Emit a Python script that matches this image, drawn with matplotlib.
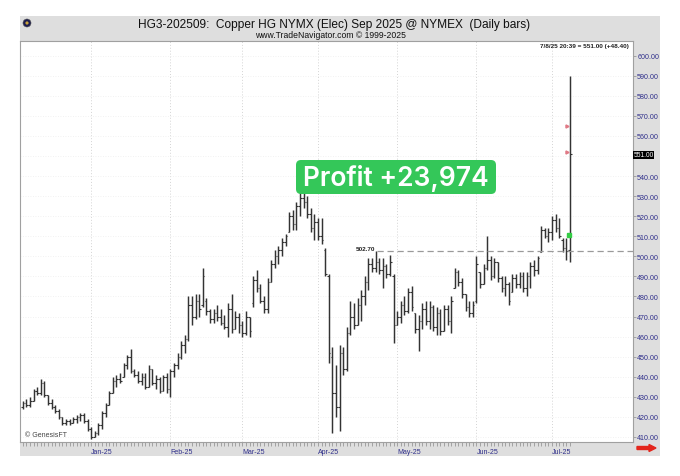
import matplotlib
matplotlib.use("Agg")
import matplotlib.pyplot as plt
from matplotlib.patches import Rectangle, FancyBboxPatch, Circle, FancyArrow
import numpy as np
import pandas as pd

# daily OHLC, Copper HG Sep 2025 (weekdays 2024-12-06 .. 2025-07-08)
dates = pd.bdate_range("2024-12-06", "2025-07-08")

opens = [425, 427, 426, 428, 433, 432, 437, 431, 427, 425, 423, 420, 417, 418, 417, 419, 420, 421, 418, 414,
         410, 412, 416, 422, 426, 432, 438, 439, 440, 446, 450, 443, 441, 438, 440, 435, 444, 437, 439, 433,
         440, 434, 443, 446, 450, 456, 459, 476, 470, 478, 476, 478, 473, 469, 472, 470, 467, 465, 474, 464,
         470, 466, 462, 470, 477, 488, 484, 478, 474, 487, 496, 500, 503, 507, 512, 520, 516, 525, 529, 527,
         521, 514, 517, 510, 503, 490, 450, 432, 425, 452, 444, 462, 470, 466, 476, 480, 487, 496, 494, 497,
         493, 495, 491, 490, 466, 470, 476, 473, 482, 472, 464, 468, 474, 468, 475, 465, 472, 463, 474, 468,
         484, 492, 487, 481, 475, 472, 478, 492, 486, 494, 498, 490, 497, 489, 484, 486, 482, 489, 486, 490,
         484, 490, 495, 493, 502, 513, 510, 512, 518, 514, 508, 504, 503]
highs = [428, 429, 430, 434, 435, 439, 438, 431, 429, 426, 424, 420, 419, 419, 420, 421, 422, 422, 419, 415,
         413, 417, 423, 427, 433, 440, 441, 442, 447, 451, 454, 444, 443, 442, 442, 446, 444, 441, 440, 441,
         442, 444, 447, 452, 458, 461, 480, 480, 481, 481, 494, 479, 474, 474, 476, 474, 471, 477, 481, 473,
         472, 468, 473, 470, 490, 493, 486, 480, 489, 498, 503, 505, 509, 511, 522, 523, 527, 532, 536, 530,
         524, 521, 519, 519, 504, 491, 455, 446, 456, 455, 465, 478, 477, 479, 483, 490, 499, 499, 502.7, 499,
         499, 496, 500.5, 491, 473, 478, 480, 484, 485, 472, 471, 477, 478, 478, 476, 475, 474, 476, 476, 480,
         494, 493, 489, 481, 478, 478, 500, 492, 496, 510, 500, 499, 497, 490, 490, 487, 491, 491, 492, 492,
         492, 497, 498, 500, 515, 514, 514, 520, 521, 519, 509, 509, 590]
lows = [424, 425, 425, 428, 431, 431, 430, 426, 424, 422, 419, 416, 416, 416, 417, 417, 418, 417, 413, 409,
        410, 411, 414, 420, 426, 432, 435, 437, 440, 444, 442, 440, 437, 436, 434, 435, 436, 434, 432, 433,
        432, 430, 440, 444, 449, 452, 458, 466, 469, 470, 475, 471, 467, 467, 468, 466, 464, 460, 462, 464,
        462, 460, 461, 460, 475, 482, 477, 472, 472, 487, 494, 496, 500, 505, 512, 513, 513, 520, 524, 519,
        512, 508, 508, 506, 490, 447, 412, 420, 413, 441, 443, 461, 464, 466, 468, 476, 483, 492, 492, 491,
        484, 489, 490, 457, 466, 467, 471, 472, 473, 462, 453, 464, 466, 464, 463, 461, 461, 463, 466, 462,
        484, 485, 479, 473, 470, 470, 477, 484, 486, 493, 488, 489, 487, 482, 480, 476, 482, 484, 484, 482,
        480, 484, 490, 491, 502, 509, 507, 508, 512, 509, 502, 498, 497]
closes = [427, 426, 428, 433, 432, 437, 431, 427, 425, 423, 420, 417, 418, 417, 419, 420, 421, 418, 414, 410,
          412, 416, 422, 426, 432, 438, 439, 438, 446, 450, 443, 441, 438, 440, 435, 444, 437, 439, 433, 440,
          434, 443, 446, 450, 456, 459, 476, 470, 478, 474, 490, 473, 469, 472, 470, 467, 465, 474, 464, 470,
          466, 462, 470, 463, 488, 484, 478, 474, 487, 496, 500, 503, 507, 510, 520, 516, 525, 529, 527, 521,
          514, 517, 510, 508, 491, 452, 432, 425, 452, 444, 462, 470, 466, 476, 480, 487, 496, 494, 497, 493,
          495, 491, 497, 466, 470, 476, 473, 482, 475, 464, 468, 474, 468, 475, 465, 472, 463, 474, 468, 478,
          492, 487, 481, 475, 472, 476, 496, 486, 494, 498, 490, 497, 489, 484, 486, 478, 489, 486, 490, 484,
          490, 495, 493, 499, 513, 510, 512, 518, 514, 510, 504, 502.6, 551]

month_dates = ["2025-01-02", "2025-02-03", "2025-03-03", "2025-04-01", "2025-05-01", "2025-06-02", "2025-07-01"]
month_labels = ["Jan-25", "Feb-25", "Mar-25", "Apr-25", "May-25", "Jun-25", "Jul-25"]
price_ticks = list(range(410, 601, 10))
line_level = 502.70
line_start = "2025-04-23"
last_price = 551.00
change = 48.40
profit_text = "Profit +23,974"

plt.rcParams['font.family'] = ['Liberation Sans', 'DejaVu Sans']
navy = '#2e2e8a'

W, H = 680, 477
fig = plt.figure(figsize=(W / 100, H / 100), dpi=100)
fig.patch.set_facecolor('white')

# grey frame behind everything
bg = fig.add_axes([0, 0, 1, 1], zorder=0)
bg.set_xlim(0, W)
bg.set_ylim(H, 0)
bg.axis('off')
bg.add_patch(Rectangle((20, 17), 640, 440, facecolor='#dedede', edgecolor='none'))

# price chart
ax = fig.add_axes([20 / W, 1 - 443 / H, 613 / W, 401 / H], zorder=1)
ax.set_facecolor('white')
x = np.arange(len(dates))
ax.vlines(x, lows, highs, color='#333333', lw=1.05)
ax.hlines(opens, x - 0.45, x, color='#333333', lw=0.8)
ax.hlines(closes, x, x + 0.45, color='#333333', lw=0.8)

month_idx = [dates.get_loc(pd.Timestamp(d)) for d in month_dates]
for m in month_idx:
    ax.axvline(m, color='#d4d4d4', lw=0.7, ls=(0, (1, 2)), zorder=0)
for p in price_ticks:
    ax.axhline(p, color='#ededed', lw=0.6, ls=(0, (1, 2)), zorder=0)

# 502.70 reference line
li = dates.get_loc(pd.Timestamp(line_start))
ax.hlines(line_level, li + 0.3, 170, color='#9a9a9a', lw=0.9, ls=(0, (5, 3)))
ax.text(li - 0.2, line_level, f"{line_level:.2f}", fontsize=4.6, fontweight='bold',
        ha='right', va='bottom', color='#222222')

# small markers near the last bar
ax.plot([len(dates) - 1.7, len(dates) - 1.7], [565, 552], ls='none', marker='>', ms=2.2,
        color='#e07a86')
ax.plot([len(dates) - 1.4], [510.7], ls='none', marker='s', ms=2.2, color='#33cc44')

ax.text(0.993, 0.995, f"7/8/25 20:39 = {last_price:.2f} (+{change:.2f})", transform=ax.transAxes,
        fontsize=4.6, fontweight='bold', ha='right', va='top', color='#222222')
ax.text(0.008, 0.01, "\u00a9 GenesisFT", transform=ax.transAxes, fontsize=5, ha='left',
        va='bottom', color='#444444')

ax.set_xlim(-0.75, 169.5)
ax.set_ylim(407.5, 607.3)
ax.set_xticks(month_idx)
ax.set_xticklabels(month_labels, ha='left', color=navy, fontsize=5.0)
ax.set_xticks(x, minor=True)
ax.tick_params(axis='x', which='both', direction='out', length=3, color='#8a8a8a', width=0.5, pad=1)
ax.yaxis.tick_right()
ax.set_yticks(price_ticks)
# 550.00 sits under the last-price flag
ax.set_yticklabels(["" if p == 550 else f"{p:.2f}" for p in price_ticks], color=navy, fontsize=5.1)
ax.tick_params(axis='y', length=2, color='#8a8a8a', width=0.5, pad=1)
for s in ax.spines.values():
    s.set_edgecolor('#a0a0a0')
    s.set_linewidth(0.8)

# overlay: titles, price flag, arrow, profit badge
ov = fig.add_axes([0, 0, 1, 1], zorder=2)
ov.set_xlim(0, W)
ov.set_ylim(H, 0)
ov.axis('off')
ov.patch.set_visible(False)
ov.text(334, 25, "HG3-202509:  Copper HG NYMX (Elec) Sep 2025 @ NYMEX  (Daily bars)",
        fontsize=8.6, ha='center', va='center', color='#111111')
ov.text(330, 36, "www.TradeNavigator.com \u00a9 1999-2025", fontsize=6.2, ha='center',
        va='center', color='#111111')
ov.add_patch(Circle((27, 24), 4, facecolor='#1d1d4f', edgecolor='#555555', lw=0.4))
ov.add_patch(Circle((27, 24), 1.6, facecolor='#c9a23a', edgecolor='none'))

ov.add_patch(Rectangle((633, 151.5), 21, 8.5, facecolor='black', edgecolor='none'))
ov.text(643.5, 156, f"{last_price:.2f}", fontsize=4.8, color='white', ha='center', va='center')
ov.add_patch(FancyArrow(637, 449, 12, 0, width=3, head_width=7, head_length=7,
                        length_includes_head=False, color='#e3261c'))

ov.add_patch(FancyBboxPatch((296, 161), 200, 34, boxstyle="round,pad=0,rounding_size=5",
                            facecolor='#34c759', edgecolor='none'))
ov.text(396, 179, profit_text, fontsize=19, color='white', ha='center', va='center',
        family=['Inter', 'Liberation Sans'], fontweight='semibold')

fig.savefig("out.png", dpi=100)
